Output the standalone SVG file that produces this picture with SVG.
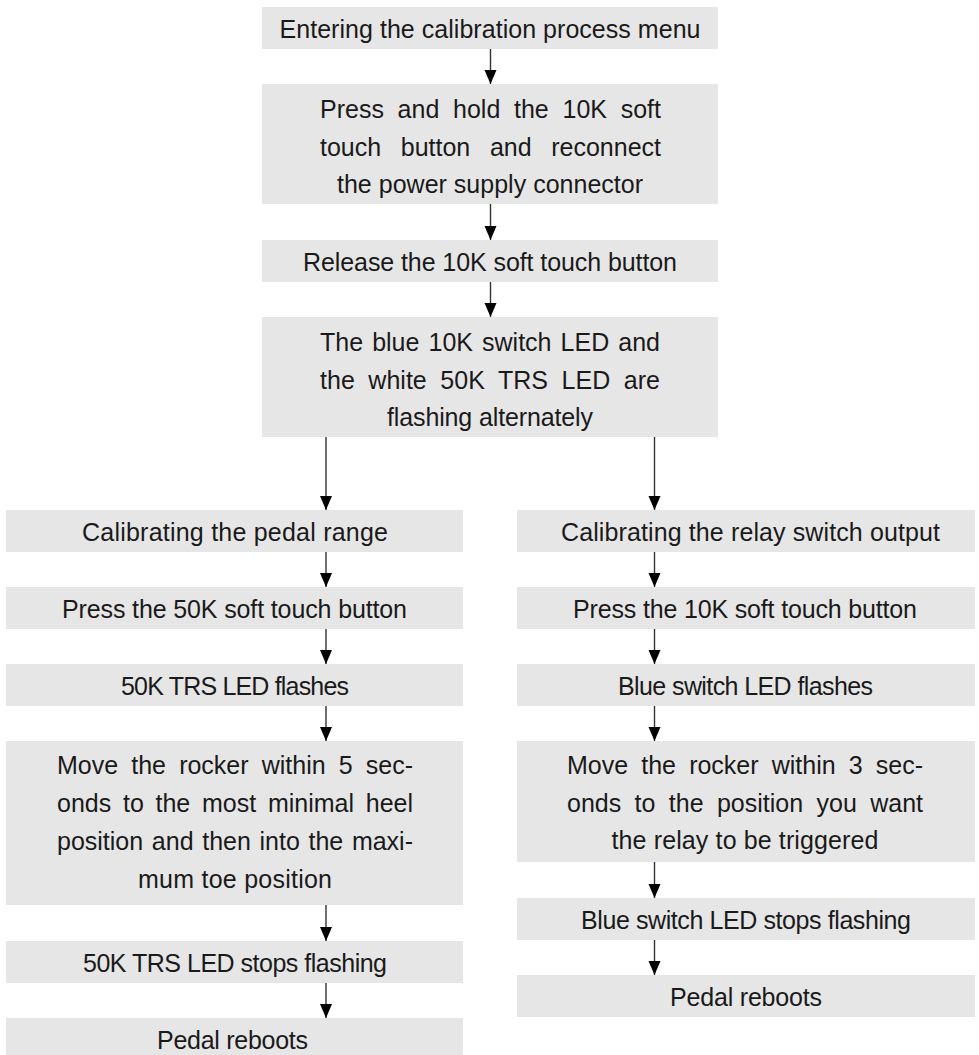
<svg xmlns="http://www.w3.org/2000/svg" width="979" height="1055" viewBox="0 0 979 1055">
<style>
.box{fill:#e6e6e6;}
text{font-family:"Liberation Sans",Arial,sans-serif;font-size:25px;fill:#1a1a1a;text-anchor:middle;}
.cn line{stroke:#333;stroke-width:1.4;fill:none;}
</style>
<defs>
<marker id="ah" markerUnits="userSpaceOnUse" markerWidth="14" markerHeight="16" refX="14" refY="6" orient="auto" viewBox="0 0 14 12">
<path d="M0,0 L14,6 L0,12 Z" fill="#000"/>
</marker>
</defs>
<rect width="979" height="1055" fill="#fff"/>
<g id="n1"><rect class="box" x="262" y="7" width="456" height="42"/>
<text x="490" y="38" textLength="421" lengthAdjust="spacing">Entering the calibration process menu</text></g>
<g id="n2"><rect class="box" x="262" y="84" width="456" height="120"/>
<text x="490.5" y="118" textLength="341" lengthAdjust="spacing" word-spacing="6.8">Press and hold the 10K soft</text>
<text x="490.5" y="155.5" textLength="341" lengthAdjust="spacing" word-spacing="12.7">touch button and reconnect</text>
<text x="490" y="193" textLength="306" lengthAdjust="spacing">the power supply connector</text></g>
<g id="n3"><rect class="box" x="262" y="240" width="456" height="42"/>
<text x="490" y="271" textLength="374" lengthAdjust="spacing">Release the 10K soft touch button</text></g>
<g id="n4"><rect class="box" x="262" y="317" width="456" height="120"/>
<text x="490" y="351" textLength="340" lengthAdjust="spacing" word-spacing="2.1">The blue 10K switch LED and</text>
<text x="490" y="388.5" textLength="340" lengthAdjust="spacing" word-spacing="6.6">the white 50K TRS LED are</text>
<text x="490" y="426" textLength="206" lengthAdjust="spacing">flashing alternately</text></g>
<g id="l1"><rect class="box" x="6" y="510" width="457" height="42"/>
<text x="235" y="541" textLength="306" lengthAdjust="spacing">Calibrating the pedal range</text></g>
<g id="l2"><rect class="box" x="6" y="587" width="457" height="42"/>
<text x="234.5" y="618" textLength="345" lengthAdjust="spacing">Press the 50K soft touch button</text></g>
<g id="l3"><rect class="box" x="6" y="664" width="457" height="42"/>
<text x="235" y="695" textLength="228" lengthAdjust="spacing">50K TRS LED flashes</text></g>
<g id="l4"><rect class="box" x="6" y="741" width="457" height="164"/>
<text x="235" y="774" textLength="356" lengthAdjust="spacing" word-spacing="6.2">Move the rocker within 5 sec-</text>
<text x="235" y="812" textLength="356" lengthAdjust="spacing" word-spacing="4.8">onds to the most minimal heel</text>
<text x="235" y="850" textLength="356" lengthAdjust="spacing" word-spacing="1.7">position and then into the maxi-</text>
<text x="235" y="888" textLength="194" lengthAdjust="spacing">mum toe position</text></g>
<g id="l5"><rect class="box" x="6" y="941" width="457" height="42"/>
<text x="235" y="972" textLength="304" lengthAdjust="spacing">50K TRS LED stops flashing</text></g>
<g id="l6"><rect class="box" x="6" y="1018" width="457" height="42"/>
<text x="232.5" y="1049" textLength="151" lengthAdjust="spacing">Pedal reboots</text></g>
<g id="r1"><rect class="box" x="517" y="510" width="458" height="42"/>
<text x="750.5" y="541" textLength="379" lengthAdjust="spacing">Calibrating the relay switch output</text></g>
<g id="r2"><rect class="box" x="517" y="587" width="458" height="42"/>
<text x="745" y="618" textLength="344" lengthAdjust="spacing">Press the 10K soft touch button</text></g>
<g id="r3"><rect class="box" x="517" y="664" width="458" height="42"/>
<text x="745.5" y="695" textLength="255" lengthAdjust="spacing">Blue switch LED flashes</text></g>
<g id="r4"><rect class="box" x="517" y="741" width="458" height="121"/>
<text x="745" y="774" textLength="356" lengthAdjust="spacing" word-spacing="6.2">Move the rocker within 3 sec-</text>
<text x="745" y="812" textLength="356" lengthAdjust="spacing" word-spacing="6.4">onds to the position you want</text>
<text x="745" y="849" textLength="267" lengthAdjust="spacing">the relay to be triggered</text></g>
<g id="r5"><rect class="box" x="517" y="898" width="458" height="42"/>
<text x="746" y="929" textLength="330" lengthAdjust="spacing">Blue switch LED stops flashing</text></g>
<g id="r6"><rect class="box" x="517" y="975" width="458" height="42"/>
<text x="746" y="1006" textLength="152" lengthAdjust="spacing">Pedal reboots</text></g>
<g id="connectors" class="cn">
<line x1="490.5" y1="49" x2="490.5" y2="84" marker-end="url(#ah)"/>
<line x1="490.5" y1="204" x2="490.5" y2="240" marker-end="url(#ah)"/>
<line x1="490.5" y1="282" x2="490.5" y2="317" marker-end="url(#ah)"/>
<line x1="326" y1="437" x2="326" y2="510" marker-end="url(#ah)"/>
<line x1="654.5" y1="437" x2="654.5" y2="510" marker-end="url(#ah)"/>
<line x1="326" y1="552" x2="326" y2="587" marker-end="url(#ah)"/>
<line x1="326" y1="629" x2="326" y2="664" marker-end="url(#ah)"/>
<line x1="326" y1="706" x2="326" y2="741" marker-end="url(#ah)"/>
<line x1="326" y1="905" x2="326" y2="941" marker-end="url(#ah)"/>
<line x1="326" y1="983" x2="326" y2="1018" marker-end="url(#ah)"/>
<line x1="654.5" y1="552" x2="654.5" y2="587" marker-end="url(#ah)"/>
<line x1="654.5" y1="629" x2="654.5" y2="664" marker-end="url(#ah)"/>
<line x1="654.5" y1="706" x2="654.5" y2="741" marker-end="url(#ah)"/>
<line x1="654.5" y1="862" x2="654.5" y2="898" marker-end="url(#ah)"/>
<line x1="654.5" y1="940" x2="654.5" y2="975" marker-end="url(#ah)"/>
</g>
</svg>
